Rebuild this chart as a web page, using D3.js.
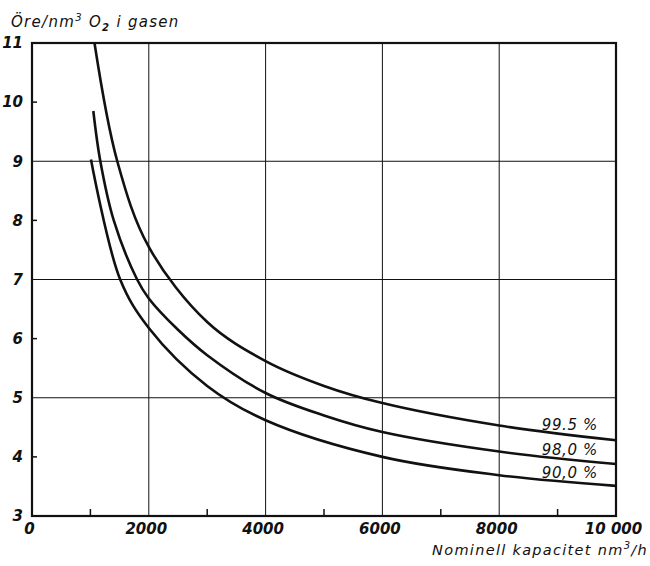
<!DOCTYPE html>
<html>
<head>
<meta charset="utf-8">
<script src="https://cdn.jsdelivr.net/npm/d3@7"></script>
<style>
  body { margin: 0; background: #fff; }
  text { font-family: "DejaVu Sans", "Liberation Sans", sans-serif; fill: #111; }
</style>
</head>
<body>
<script>
var w = 650, h = 566;
var margin = {top: 43, right: 34, bottom: 50, left: 32};

// capacity, nm3/h
var cap995 = [1070, 1460, 2000, 3000, 4000, 5000, 6000, 8000, 10000];
var ore995 = [11.0, 9.0, 7.55, 6.28, 5.62, 5.2, 4.91, 4.53, 4.28];
var cap980 = [1050, 1170, 1400, 1800, 2000, 2500, 3000, 4000, 5000, 6000, 8000, 10000];
var ore980 = [9.85, 9.0, 8.0, 7.0, 6.68, 6.15, 5.72, 5.08, 4.7, 4.42, 4.09, 3.88];
var cap900 = [1010, 1510, 2000, 3000, 4000, 6000, 8000, 10000];
var ore900 = [9.03, 7.0, 6.18, 5.2, 4.62, 4.0, 3.69, 3.51];
var curveLabels = ['99.5 %', '98,0 %', '90,0 %'];

var xTicks = [0, 2000, 4000, 6000, 8000, 10000];
var xTickLabels = ['0', '2000', '4000', '6000', '8000', '10 000'];
var xMinor = [1000, 3000, 5000, 7000, 9000];
var yTicks = [3, 4, 5, 6, 7, 8, 9, 10, 11];
var yGrid = [5, 7, 9];
var yMinor = [4, 6, 8, 10];

var series = [
    {label: curveLabels[0], pts: d3.zip(cap995, ore995)},
    {label: curveLabels[1], pts: d3.zip(cap980, ore980)},
    {label: curveLabels[2], pts: d3.zip(cap900, ore900)}
];

var x = d3.scaleLinear().domain([0, 10000]).range([margin.left, w - margin.right]);
var y = d3.scaleLinear().domain([3, 11]).range([h - margin.bottom, margin.top]);

var svg = d3.select('body').append('svg')
    .attr('width', w)
    .attr('height', h);

// grid
var grid = svg.append('g').attr('stroke', '#111').attr('stroke-width', 1);
grid.selectAll('line.v')
    .data(xTicks.slice(1, -1))
    .enter()
    .append('line')
    .attr('x1', d => x(d)).attr('x2', d => x(d))
    .attr('y1', y(3)).attr('y2', y(11));
grid.selectAll('line.h')
    .data(yGrid)
    .enter()
    .append('line')
    .attr('x1', x(0)).attr('x2', x(10000))
    .attr('y1', d => y(d)).attr('y2', d => y(d));

// inner minor ticks
grid.selectAll('line.mx')
    .data(xMinor)
    .enter()
    .append('line')
    .attr('stroke-width', 1.5)
    .attr('x1', d => x(d)).attr('x2', d => x(d))
    .attr('y1', y(3)).attr('y2', y(3) - 7);
grid.selectAll('line.my')
    .data(yMinor)
    .enter()
    .append('line')
    .attr('stroke-width', 1.5)
    .attr('x1', x(0)).attr('x2', x(0) + 5)
    .attr('y1', d => y(d)).attr('y2', d => y(d));

// frame
svg.append('rect')
    .attr('x', x(0)).attr('y', y(11))
    .attr('width', x(10000) - x(0))
    .attr('height', y(3) - y(11))
    .attr('fill', 'none')
    .attr('stroke', '#111')
    .attr('stroke-width', 2.2);

// tick labels
var xAxis = d3.axisBottom(x)
    .tickValues(xTicks)
    .tickSize(0)
    .tickPadding(7)
    .tickFormat((d, i) => xTickLabels[i]);
var gx = svg.append('g')
    .attr('transform', 'translate(-3,' + y(3) + ')')
    .call(xAxis);
gx.select('.domain').remove();
gx.selectAll('text')
    .attr('font-size', 15)
    .attr('font-style', 'italic')
    .attr('font-weight', 'bold')
    .attr('fill', '#111');

var yAxis = d3.axisLeft(y)
    .tickValues(yTicks)
    .tickSize(0)
    .tickPadding(9)
    .tickFormat(d3.format('d'));
var gy = svg.append('g')
    .attr('transform', 'translate(' + x(0) + ',0)')
    .call(yAxis);
gy.select('.domain').remove();
gy.selectAll('text')
    .attr('font-size', 15)
    .attr('font-style', 'italic')
    .attr('font-weight', 'bold')
    .attr('fill', '#111');

// curves
var line = d3.line()
    .x(d => x(d[0]))
    .y(d => y(d[1]))
    .curve(d3.curveCatmullRom.alpha(0.5));

svg.append('g').selectAll('path')
    .data(series)
    .enter()
    .append('path')
    .attr('d', d => line(d.pts))
    .attr('fill', 'none')
    .attr('stroke', '#111')
    .attr('stroke-width', 2.6);

function valueAt(pts, c) {
    var i = d3.bisector(p => p[0]).left(pts, c);
    var a = pts[Math.max(0, i - 1)], b = pts[Math.min(pts.length - 1, i)];
    if (a[0] === b[0]) return a[1];
    return a[1] + (b[1] - a[1]) * (c - a[0]) / (b[0] - a[0]);
}

svg.append('g').selectAll('text')
    .data(series)
    .enter()
    .append('text')
    .attr('x', x(8730))
    .attr('y', d => y(valueAt(d.pts, 9000)) - 3)
    .attr('font-size', 15)
    .attr('font-style', 'italic')
    .attr('letter-spacing', 0.6)
    .text(d => d.label);

// axis titles
var yt = svg.append('text')
    .attr('x', 11).attr('y', 27)
    .attr('font-size', 15)
    .attr('font-style', 'italic')
    .attr('letter-spacing', 1.3);
yt.append('tspan').text('Öre/nm');
yt.append('tspan').attr('font-size', 10).attr('dy', -6).text('3');
yt.append('tspan').attr('dy', 6).text(' O');
yt.append('tspan').attr('font-size', 10).attr('font-weight', 'bold').attr('dy', 4).text('2');
yt.append('tspan').attr('dy', -4).text(' i gasen');

var xt = svg.append('text')
    .attr('x', 648).attr('y', 555)
    .attr('text-anchor', 'end')
    .attr('font-size', 14.5)
    .attr('font-style', 'italic')
    .attr('letter-spacing', 1.3);
xt.append('tspan').text('Nominell kapacitet nm');
xt.append('tspan').attr('font-size', 10).attr('dy', -6).text('3');
xt.append('tspan').attr('dy', 6).text('/h');
</script>
</body>
</html>
